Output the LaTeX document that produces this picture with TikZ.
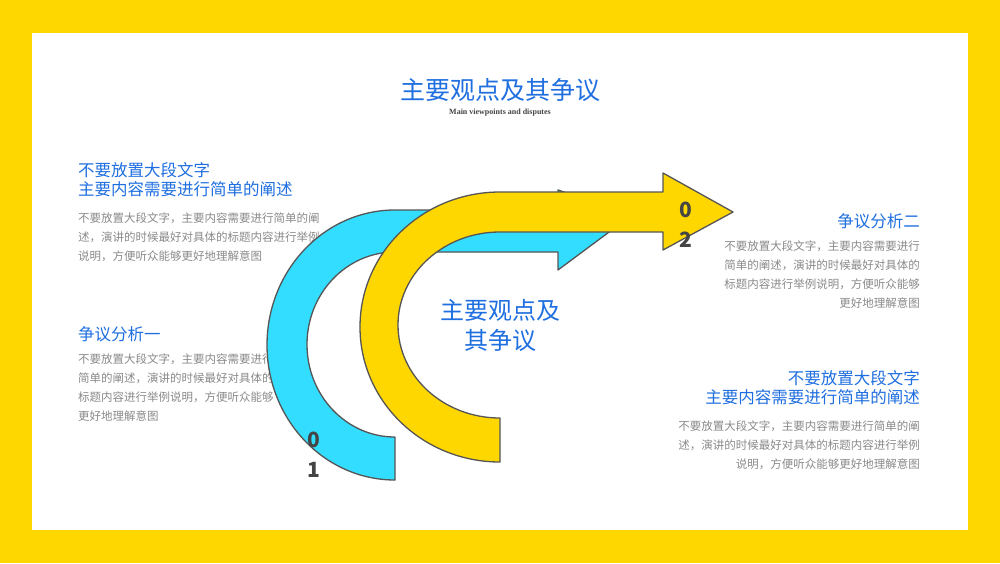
\documentclass[tikz,border=0pt]{standalone}
\usepackage{fontspec}
\setmainfont{Noto Sans CJK SC}
\newfontfamily\latinserif{Liberation Serif}
\definecolor{themeblue}{HTML}{1F6FE0}
\definecolor{bodygray}{HTML}{8A8A8A}
\definecolor{framey}{HTML}{FFD700}
\definecolor{arrowblue}{HTML}{33DDFF}
\definecolor{edgegray}{HTML}{555555}
\definecolor{numgray}{HTML}{444444}
\begin{document}
\begin{tikzpicture}[x=1pt,y=-1pt,
    heading/.style={text=themeblue,font=\fontsize{16.5}{19}\selectfont,inner sep=0pt},
    bodytext/.style={text=bodygray,font=\fontsize{11.5}{19}\selectfont,inner sep=0pt},
    bignum/.style={text=numgray,font=\fontsize{21}{30}\selectfont\bfseries,align=center,inner sep=0pt},
    band/.style={draw=edgegray,line width=1.3pt,line join=round}]
    \useasboundingbox (0,0) rectangle (1000,563);
    \fill[framey] (0,0) rectangle (1000,563);
    \fill[white] (32,33) rectangle (968,530);

    % Titel
    \node[heading,font=\fontsize{25}{28}\selectfont] (title) at (500,90) {主要观点及其争议};
    \node[font=\fontsize{8}{9}\latinserif\bfseries\selectfont,text=numgray] (subtitle) at (500,113) {Main viewpoints and disputes};

    % Linke Texte
    \node[heading,anchor=north west,align=left] (lefthead) at (78,162) {不要放置大段文字\\主要内容需要进行简单的阐述};
    \node[bodytext,anchor=north west,align=left] (leftbody) at (78,213) {不要放置大段文字，主要内容需要进行简单的阐\\述，演讲的时候最好对具体的标题内容进行举例\\说明，方便听众能够更好地理解意图};
    \node[heading,anchor=north west] (pointone) at (78,326) {争议分析一};
    \node[bodytext,anchor=north west,align=left] (onebody) at (78,354) {不要放置大段文字，主要内容需要进行\\简单的阐述，演讲的时候最好对具体的\\标题内容进行举例说明，方便听众能够\\更好地理解意图};

    % Rechte Texte
    \node[heading,anchor=north east] (pointtwo) at (920,213) {争议分析二};
    \node[bodytext,anchor=north east,align=right] (twobody) at (920,241) {不要放置大段文字，主要内容需要进行\\简单的阐述，演讲的时候最好对具体的\\标题内容进行举例说明，方便听众能够\\更好地理解意图};
    \node[heading,anchor=north east,align=right] (righthead) at (920,370) {不要放置大段文字\\主要内容需要进行简单的阐述};
    \node[bodytext,anchor=north east,align=right] (rightbody) at (920,421) {不要放置大段文字，主要内容需要进行简单的阐\\述，演讲的时候最好对具体的标题内容进行举例\\说明，方便听众能够更好地理解意图};

    % Blauer Pfeil
    \draw[band,fill=arrowblue] (395,480) arc[start angle=90,end angle=270,x radius=128,y radius=135]
        -- (558,210) -- (558,190) -- (632,215) -- (558,270) -- (558,252) -- (395,252)
        arc[start angle=270,end angle=90,x radius=88,y radius=92.5] -- cycle;

    % Gelber Pfeil
    \draw[band,fill=framey] (500,462) arc[start angle=90,end angle=270,x radius=140,y radius=135]
        -- (663,192) -- (663,173) -- (733,212) -- (663,250) -- (663,232) -- (500,232)
        arc[start angle=270,end angle=90,x radius=102,y radius=93] -- cycle;

    % Mitte und Nummern
    \node[heading,align=center,font=\fontsize{24}{30}\selectfont] (center) at (500,325) {主要观点及\\其争议};
    \node[bignum] (numone) at (314,455) {0\\1};
    \node[bignum] (numtwo) at (686,225) {0\\2};
\end{tikzpicture}
\end{document}
